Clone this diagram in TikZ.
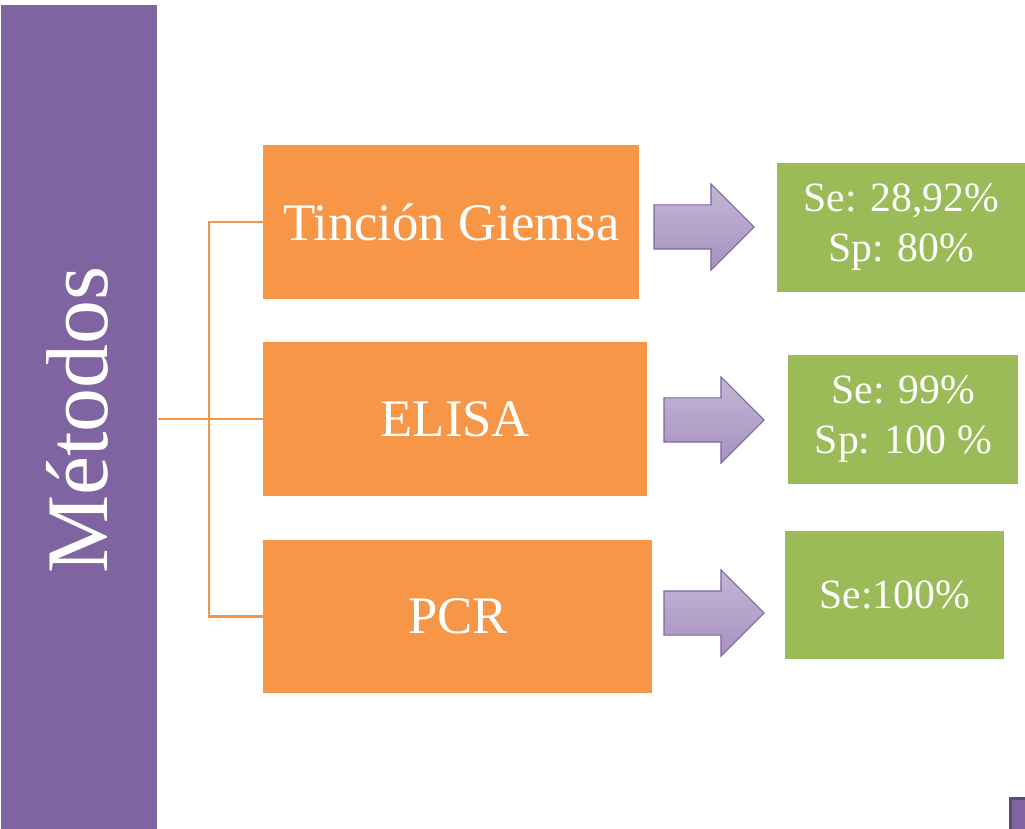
\documentclass[tikz,border=0pt]{standalone}
\usepackage{fontspec}
\setmainfont{Liberation Serif}
\usetikzlibrary{shapes.arrows, positioning, calc}

\definecolor{barpurple}{HTML}{8064A2}
\definecolor{darkpurple}{HTML}{5F497A}
\definecolor{methodorange}{HTML}{F79646}
\definecolor{resultgreen}{HTML}{9BBB59}
\definecolor{arrowtop}{HTML}{C4B6D6}
\definecolor{arrowbottom}{HTML}{A592BF}

\begin{document}
\begin{tikzpicture}[
    % Define styles
    method/.style={rectangle, fill=methodorange, anchor=west, minimum height=3.08cm, text=white, font=\fontsize{30}{36}\selectfont},
    result/.style={rectangle, fill=resultgreen, anchor=west, minimum height=2.58cm, text=white, align=center, font=\fontsize{23.7}{28.5}\selectfont},
    bigarrow/.style={single arrow, draw=barpurple, line width=0.6pt, top color=arrowtop, bottom color=arrowbottom, minimum height=2cm, inner sep=0.43cm, single arrow head extend=0.42cm, single arrow tip angle=90},
    link/.style={draw=methodorange, line width=1.3pt},
    ]

    \useasboundingbox (0,0) rectangle (20.5,-16.58);

    % Side bar
    \node[rectangle, fill=barpurple, minimum width=3.12cm, minimum height=16.48cm, anchor=north west] (bar) at (0.02,-0.1) {};
    \node[rotate=90, text=white, font=\fontsize{50}{60}\selectfont] (title) at (1.54,-8.4) {Métodos};

    % Methods
    \node[method, minimum width=7.52cm] (giemsa) at (5.26,-4.44) {Tinción Giemsa};
    \node[method, minimum width=7.68cm] (elisa) at (5.26,-8.38) {ELISA};
    \node[method, minimum width=7.78cm, minimum height=3.06cm] (pcr) at (5.26,-12.33) {PCR};

    % Arrows
    \node[bigarrow] (arr1) at (13.86,-4.54) {};
    \node[bigarrow] (arr2) at (14.06,-8.40) {};
    \node[bigarrow] (arr3) at (14.06,-12.26) {};

    % Results
    \node[result, minimum width=4.96cm] (res1) at (15.54,-4.55) {Se: 28,92\%\\Sp: 80\%};
    \node[result, minimum width=4.6cm] (res2) at (15.76,-8.39) {Se: 99\%\\Sp: 100 \%};
    \node[result, minimum width=4.38cm, minimum height=2.56cm] (res3) at (15.70,-11.90) {Se:100\%};

    % Corner block
    \node[rectangle, fill=barpurple, draw=darkpurple, line width=1.5pt, minimum width=0.8cm, minimum height=0.9cm, anchor=north west] (corner) at (20.18,-15.94) {};

    % Bracket
    \coordinate (split) at (4.18,-8.38);
    \draw[link] (bar.east |- elisa.west) -- (elisa.west);
    \draw[link] (giemsa.west) -| (split) |- (pcr.west);

\end{tikzpicture}
\end{document}
